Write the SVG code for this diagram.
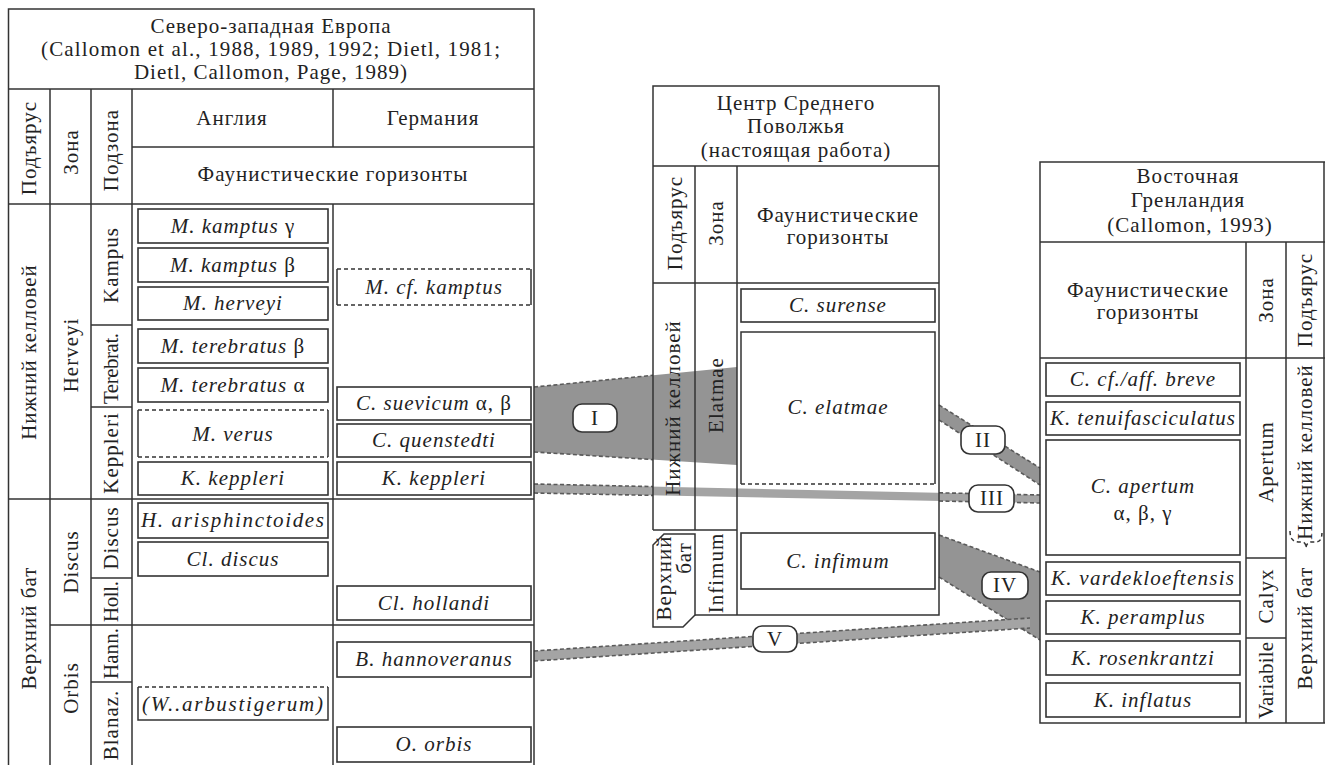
<svg xmlns="http://www.w3.org/2000/svg" width="1325" height="765" viewBox="0 0 1325 765" font-family="Liberation Serif, DejaVu Serif, serif">
<style>
.t{font-size:21px;fill:#222;letter-spacing:1px;text-anchor:middle}
.i{font-style:italic}
.u{font-style:normal}
.ln{stroke:#333;stroke-width:1.5;fill:none}
.box{fill:none;stroke:#333;stroke-width:1.6}
.dsh{fill:none;stroke:#333;stroke-width:1.5;stroke-dasharray:4 3}
.band{fill:#949494}
.bandl{fill:#a4a4a4}
.bedge{fill:none;stroke:#5a5a5a;stroke-width:1.6;stroke-dasharray:4 2.5}
.lbl{fill:#fff;stroke:#333;stroke-width:1.6}
</style>
<rect width="1325" height="765" fill="#fff"/>

<g id="connectors">
  <g id="link-I">
    <polygon class="band" points="534,387 737,367 737,465 534,452"/>
    <line class="bedge" x1="534" y1="387" x2="653" y2="375.3"/>
    <line class="bedge" x1="534" y1="452" x2="653" y2="459.6"/>
  </g>
  <g id="link-II">
    <polygon class="band" points="939,405 1040,468 1040,485 939,420"/>
    <line class="bedge" x1="939" y1="405" x2="1040" y2="468"/>
    <line class="bedge" x1="939" y1="420" x2="1040" y2="485"/>
  </g>
  <g id="link-III">
    <polygon class="bandl" points="534,484 1040,495 1040,503 534,493"/>
    <line class="bedge" x1="534" y1="484" x2="653" y2="486.6"/>
    <line class="bedge" x1="534" y1="493" x2="653" y2="495.4"/>
    <line class="bedge" x1="939" y1="492.8" x2="1040" y2="495"/>
    <line class="bedge" x1="939" y1="501" x2="1040" y2="503"/>
  </g>
  <g id="link-IV">
    <polygon class="band" points="939,535 1040,572 1040,640 939,577"/>
    <line class="bedge" x1="939" y1="535" x2="1040" y2="572"/>
    <line class="bedge" x1="939" y1="577" x2="1040" y2="640"/>
  </g>
  <g id="link-V">
    <polygon class="bandl" points="534,651 1030,618 1030,628 534,661"/>
    <line class="bedge" x1="534" y1="651" x2="1030" y2="618"/>
    <line class="bedge" x1="534" y1="661" x2="1030" y2="628"/>
  </g>
  <g id="labels">
    <rect class="lbl" x="573" y="404" width="44" height="28" rx="9"/>
    <text class="t" x="595" y="425">I</text>
    <rect class="lbl" x="961" y="426" width="44" height="28" rx="9"/>
    <text class="t" x="983" y="447">II</text>
    <rect class="lbl" x="969" y="485" width="45" height="27" rx="9"/>
    <text class="t" x="992" y="505">III</text>
    <rect class="lbl" x="982" y="572" width="46" height="27" rx="9"/>
    <text class="t" x="1005" y="592">IV</text>
    <rect class="lbl" x="753" y="626" width="44" height="26" rx="9"/>
    <text class="t" x="775" y="646">V</text>
  </g>
</g>

<g id="table-nw-europe">
  <path class="ln" d="M8.5,780 V9 H534 V780 M8.5,89 H534 M132,147 H534 M8.5,204 H534 M50,89 V780 M91,89 V780 M132,89 V780 M333,89 V147 M333,204 V780 M91,325 H132 M91,407 H132 M8.5,499 H534 M91,578 H132 M50,625 H534 M91,682 H132"/>
  <text class="t" x="271" y="33">Северо-западная Европа</text>
  <text class="t" x="271" y="56" textLength="460">(Callomon et al., 1988, 1989, 1992; Dietl, 1981;</text>
  <text class="t" x="271" y="79">Dietl, Callomon, Page, 1989)</text>
  <text class="t" x="29" y="155" transform="rotate(-90 29 148)">Подъярус</text>
  <text class="t" x="71" y="159" transform="rotate(-90 71 152)">Зона</text>
  <text class="t" x="111" y="157" transform="rotate(-90 111 150)">Подзона</text>
  <text class="t" x="232" y="125">Англия</text>
  <text class="t" x="433" y="125">Германия</text>
  <text class="t" x="333" y="181">Фаунистические горизонты</text>
  <text class="t" x="29" y="359" transform="rotate(-90 29 352)">Нижний келловей</text>
  <text class="t" x="71" y="362" transform="rotate(-90 71 355)">Herveyi</text>
  <text class="t" x="111" y="272" transform="rotate(-90 111 265)">Kampus</text>
  <text class="t" x="111" y="375" transform="rotate(-90 111 368)" textLength="72">Terebrat.</text>
  <text class="t" x="111" y="460" transform="rotate(-90 111 453)">Keppleri</text>
  <text class="t" x="29" y="635" transform="rotate(-90 29 628)">Верхний бат</text>
  <text class="t" x="71" y="569" transform="rotate(-90 71 562)">Discus</text>
  <text class="t" x="111" y="545" transform="rotate(-90 111 538)">Discus</text>
  <text class="t" x="111" y="608" transform="rotate(-90 111 601)" textLength="42">Holl.</text>
  <text class="t" x="71" y="695" transform="rotate(-90 71 688)">Orbis</text>
  <text class="t" x="111" y="660" transform="rotate(-90 111 653)" textLength="52">Hann.</text>
  <text class="t" x="111" y="732" transform="rotate(-90 111 725)">Blanaz.</text>

  <g id="e-kamptus-g"><rect class="box" x="138" y="209" width="190" height="34"/><text class="t i" x="233" y="233">M. kamptus <tspan class="u">γ</tspan></text></g>
  <g id="e-kamptus-b"><rect class="box" x="138" y="248" width="190" height="34"/><text class="t i" x="233" y="272">M. kamptus <tspan class="u">β</tspan></text></g>
  <g id="e-herveyi"><rect class="box" x="138" y="287" width="190" height="33"/><text class="t i" x="233" y="310">M. herveyi</text></g>
  <g id="e-terebratus-b"><rect class="box" x="138" y="329" width="190" height="34"/><text class="t i" x="233" y="353">M. terebratus <tspan class="u">β</tspan></text></g>
  <g id="e-terebratus-a"><rect class="box" x="138" y="368" width="190" height="34"/><text class="t i" x="233" y="392">M. terebratus <tspan class="u">α</tspan></text></g>
  <g id="e-verus"><path class="ln" d="M138,410 V457 M328,410 V457"/><path class="dsh" d="M138,410 H328 M138,457 H328"/><text class="t i" x="233" y="441">M. verus</text></g>
  <g id="e-keppleri"><rect class="box" x="138" y="462" width="190" height="33"/><text class="t i" x="233" y="485">K. keppleri</text></g>
  <g id="e-arisphinctoides"><rect class="box" x="138" y="503" width="190" height="35"/><text class="t i" x="233" y="527" textLength="184">H.  arisphinctoides</text></g>
  <g id="e-discus"><rect class="box" x="138" y="542" width="190" height="34"/><text class="t i" x="233" y="566">Cl. discus</text></g>
  <g id="e-arbustigerum"><path class="ln" d="M138,687 V720 H328 V687"/><path class="dsh" d="M138,687 H328"/><text class="t i" x="233" y="711" textLength="182">(W..arbustigerum)</text></g>

  <g id="g-cf-kamptus"><path class="ln" d="M337,269 V305 M531,269 V305"/><path class="dsh" d="M337,269 H531 M337,305 H531"/><text class="t i" x="434" y="294">M. cf. kamptus</text></g>
  <g id="g-suevicum"><rect class="box" x="337" y="387" width="194" height="33"/><text class="t i" x="434" y="410">C. suevicum <tspan class="u">α, β</tspan></text></g>
  <g id="g-quenstedti"><rect class="box" x="337" y="424" width="194" height="33"/><text class="t i" x="434" y="447">C. quenstedti</text></g>
  <g id="g-keppleri"><rect class="box" x="337" y="462" width="194" height="33"/><text class="t i" x="434" y="485">K. keppleri</text></g>
  <g id="g-hollandi"><rect class="box" x="337" y="586" width="194" height="34"/><text class="t i" x="434" y="610">Cl. hollandi</text></g>
  <g id="g-hannoveranus"><rect class="box" x="337" y="642" width="194" height="35"/><text class="t i" x="434" y="666">B. hannoveranus</text></g>
  <g id="g-orbis"><rect class="box" x="337" y="727" width="194" height="35"/><text class="t i" x="434" y="751">O. orbis</text></g>
</g>

<g id="table-volga">
  <path class="ln" d="M653,530 V86 H939 V615 H695 M653,166 H939 M653,283 H939 M695,166 V530 M737,166 V615 M653,530 H737"/>
  <path class="ln" d="M653,545 L664,534 H695 V615 L683,627 H653 Z"/>
  <text class="t" x="796" y="110">Центр Среднего</text>
  <text class="t" x="796" y="133">Поволжья</text>
  <text class="t" x="796" y="157">(настоящая работа)</text>
  <text class="t" x="675" y="230" transform="rotate(-90 675 223)">Подъярус</text>
  <text class="t" x="716" y="230" transform="rotate(-90 716 223)">Зона</text>
  <text class="t" x="838" y="222">Фаунистические</text>
  <text class="t" x="838" y="244">горизонты</text>
  <text class="t" x="673" y="415" transform="rotate(-90 673 408)">Нижний келловей</text>
  <text class="t" x="716" y="402" transform="rotate(-90 716 395)">Elatmae</text>
  <text class="t" x="664" y="585" transform="rotate(-90 664 578)">Верхний</text>
  <text class="t" x="684" y="565" transform="rotate(-90 684 558)">бат</text>
  <text class="t" x="716" y="580" transform="rotate(-90 716 573)">Infimum</text>
  <g id="v-surense"><rect class="box" x="741" y="289" width="194" height="33"/><text class="t i" x="838" y="312">C. surense</text></g>
  <g id="v-elatmae"><path class="ln" d="M741,484 V332 H935 V484"/><path class="dsh" d="M741,484 H935"/><text class="t i" x="838" y="414">C. elatmae</text></g>
  <g id="v-infimum"><rect class="box" x="741" y="533" width="194" height="56"/><text class="t i" x="838" y="568">C. infimum</text></g>
</g>

<g id="table-greenland">
  <path class="ln" d="M1340,162 H1040 V723 H1340 M1324,162 V723 M1040,242 H1340 M1040,358 H1340 M1246,242 V723 M1286,242 V723 M1246,558 H1286 M1246,638 H1286"/>
  <path class="dsh" d="M1290,531 C1290,540 1294,542 1300,542 L1302,542 C1305,542 1306,545 1306,548 C1306,545 1308,542 1311,542 L1314,542 C1320,542 1322,540 1322,531"/>
  <text class="t" x="1188" y="183">Восточная</text>
  <text class="t" x="1188" y="207">Гренландия</text>
  <text class="t" x="1190" y="232">(Callomon, 1993)</text>
  <text class="t" x="1148" y="297">Фаунистические</text>
  <text class="t" x="1148" y="319">горизонты</text>
  <text class="t" x="1266" y="307" transform="rotate(-90 1266 300)">Зона</text>
  <text class="t" x="1305" y="307" transform="rotate(-90 1305 300)">Подъярус</text>
  <text class="t" x="1266" y="469" transform="rotate(-90 1266 462)">Apertum</text>
  <text class="t" x="1266" y="603" transform="rotate(-90 1266 596)">Calyx</text>
  <text class="t" x="1266" y="687" transform="rotate(-90 1266 680)" textLength="78">Variabile</text>
  <text class="t" x="1305" y="459" transform="rotate(-90 1305 452)">Нижний келловей</text>
  <text class="t" x="1305" y="635" transform="rotate(-90 1305 628)">Верхний бат</text>
  <g id="r-breve"><rect class="box" x="1046" y="363" width="194" height="33"/><text class="t i" x="1143" y="386">C. cf./aff. breve</text></g>
  <g id="r-tenuifasciculatus"><rect class="box" x="1046" y="402" width="194" height="33"/><text class="t i" x="1143" y="425" textLength="186">K. tenuifasciculatus</text></g>
  <g id="r-apertum"><rect class="box" x="1046" y="440" width="194" height="115"/><text class="t i" x="1143" y="493">C. apertum</text><text class="t" x="1143" y="520">α, β, γ</text></g>
  <g id="r-vardekloeftensis"><rect class="box" x="1046" y="562" width="194" height="33"/><text class="t i" x="1143" y="585" textLength="184">K. vardekloeftensis</text></g>
  <g id="r-peramplus"><rect class="box" x="1046" y="601" width="194" height="33"/><text class="t i" x="1143" y="624">K. peramplus</text></g>
  <g id="r-rosenkrantzi"><rect class="box" x="1046" y="641" width="194" height="34"/><text class="t i" x="1143" y="665">K. rosenkrantzi</text></g>
  <g id="r-inflatus"><rect class="box" x="1046" y="683" width="194" height="34"/><text class="t i" x="1143" y="707">K. inflatus</text></g>
</g>
</svg>
